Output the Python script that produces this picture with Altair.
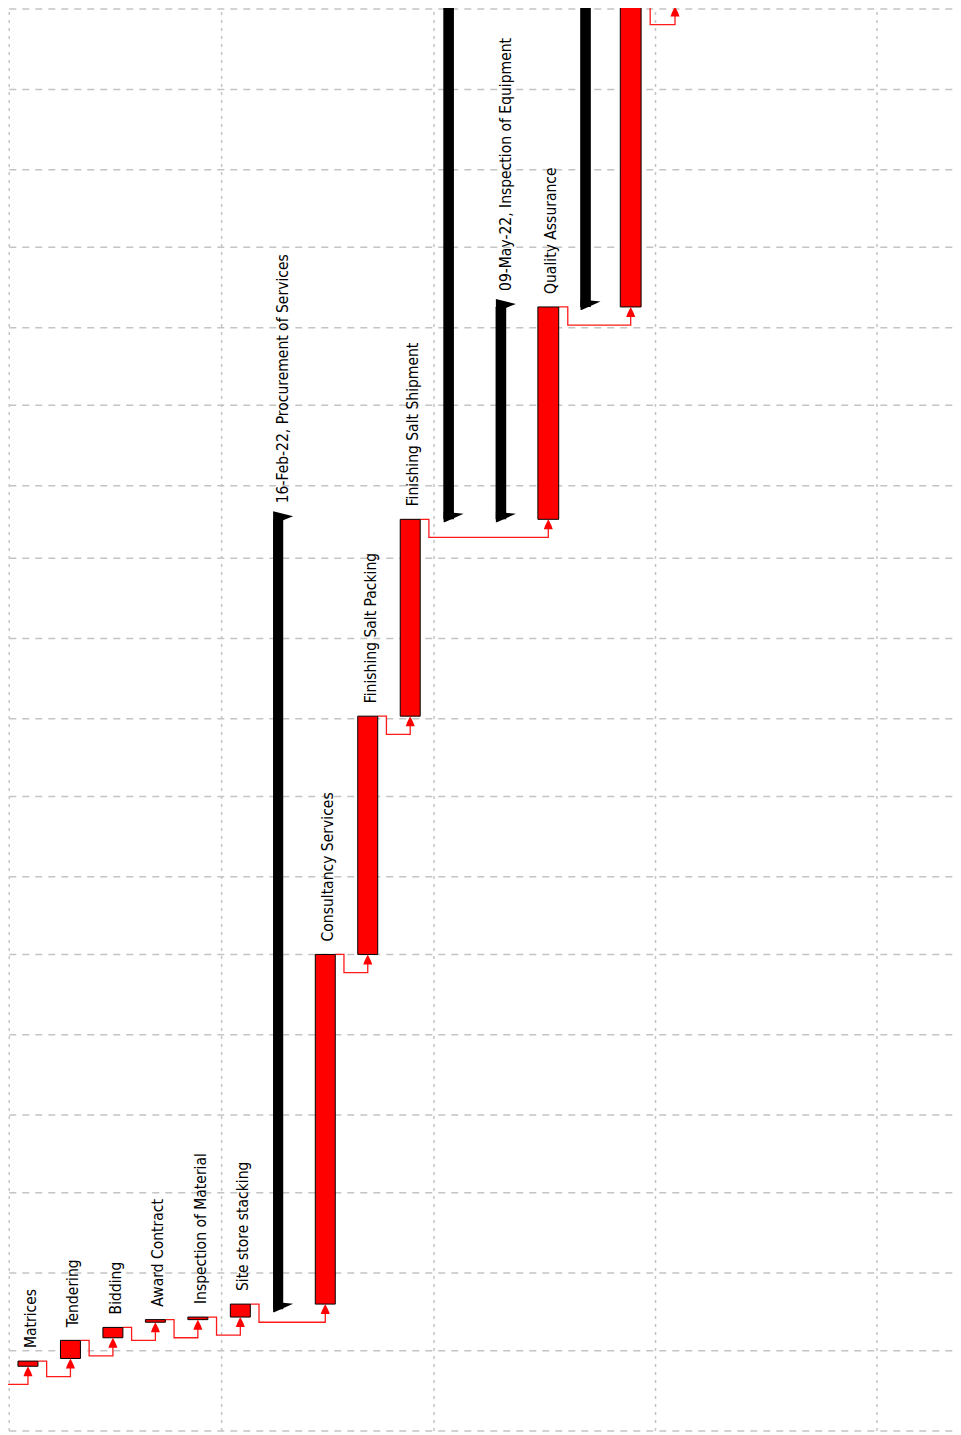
import altair as alt
import pandas as pd

ORIGIN = "2021-03-01"

# ---- tasks (red bars) ----
task_names = ["Matrices", "Tendering", "Bidding", "Award Contract", "Inspection of Material",
              "Site store stacking", "Consultancy Services", "Finishing Salt Packing",
              "Finishing Salt Shipment", "Quality Assurance", ""]
task_rows = [0, 1, 2, 3, 4, 5, 7, 8, 9, 12.14, 14]
task_starts = ["2021-03-26", "2021-03-29", "2021-04-06", "2021-04-12", "2021-04-13", "2021-04-14",
               "2021-04-19", "2021-09-01", "2021-12-02", "2022-02-16", "2022-05-09"]
task_finishes = ["2021-03-28", "2021-04-05", "2021-04-10", "2021-04-13", "2021-04-14", "2021-04-19",
                 "2021-09-01", "2021-12-02", "2022-02-16", "2022-05-09", "2022-09-02"]

# ---- summary tasks (black bars) ----
summary_names = ["16-Feb-22, Procurement of Services", "", "09-May-22, Inspection of Equipment", ""]
summary_rows = [6, 10, 11.18, 13.09]
summary_starts = ["2021-04-17", "2022-02-16", "2022-02-16", "2022-05-09"]
summary_finishes = ["2022-02-16", "2022-10-31", "2022-05-09", "2022-10-31"]

# ---- finish-to-start links (index into task lists; None = off-chart task) ----
link_pred = [None, 0, 1, 2, 3, 4, 5, 6, 7, 8, 9, 10]
link_succ = [0, 1, 2, 3, 4, 5, 6, 7, 8, 9, 10, None]
offchart_pred_row = -1
offchart_succ_row = 15
offchart_succ_start = "2022-09-02"

# ---- grid ----
grid_start, grid_end = "2021-03-01", "2022-09-01"
row_group_lines = [0, 5, 10, 15, 20]


def day(s):
    return (pd.Timestamp(s) - pd.Timestamp(ORIGIN)).days


TASK_OFF, SUM_OFF = 0.44, 0.33

tasks = pd.DataFrame({
    "name": task_names,
    "pos": [r + TASK_OFF for r in task_rows],
    "start": [day(s) for s in task_starts],
    "finish": [day(s) for s in task_finishes],
})
tasks["x0"] = tasks["pos"] - 0.235
tasks["x1"] = tasks["pos"] + 0.235

summ = pd.DataFrame({
    "name": summary_names,
    "pos": [r + SUM_OFF for r in summary_rows],
    "start": [day(s) for s in summary_starts],
    "finish": [day(s) for s in summary_finishes],
})
summ["x0"] = summ["pos"] - 0.12
summ["x1"] = summ["pos"] + 0.12

# links
lrows = []
arrows = []
for k, (p, s) in enumerate(zip(link_pred, link_succ)):
    if p is None:
        px = offchart_pred_row + TASK_OFF
        pf = tasks.loc[s, "start"]
    else:
        px = tasks.loc[p, "pos"]
        pf = tasks.loc[p, "finish"]
    if s is None:
        sx = offchart_succ_row + TASK_OFF
        ss = day(offchart_succ_start)
    else:
        sx = tasks.loc[s, "pos"]
        ss = tasks.loc[s, "start"]
    pts = [(px + 0.235, pf), (px + 0.44, pf), (px + 0.44, ss - 7), (sx, ss - 7), (sx, ss - 1)]
    for j, (xx, yy) in enumerate(pts):
        lrows.append({"link": k, "ord": j, "x": xx, "y": yy})
    arrows.append({"x": sx, "y": ss})
links = pd.DataFrame(lrows)
arrow_df = pd.DataFrame(arrows)

months = pd.date_range(grid_start, grid_end, freq="MS")
hgrid = pd.DataFrame({"y": [day(m) for m in months], "x0": 0, "x1": 21.72})
vgrid = pd.DataFrame({"x": row_group_lines, "y0": day(grid_start), "y1": day(grid_end)})

XS = alt.Scale(domain=[-0.03, 10, 20, 21.72], range=[0, 426, 869, 945], nice=False, zero=False)
YS = alt.Scale(domain=[-1.54, 549.42], nice=False, zero=False)

X = lambda f: alt.X(f, type="quantitative", scale=XS, axis=None)
Y = lambda f: alt.Y(f, type="quantitative", scale=YS, axis=None)

h_layer = alt.Chart(hgrid).mark_rule(color="#c4c4c4", strokeWidth=1.5, strokeDash=[7, 6]).encode(
    x=X("x0"), x2="x1", y=Y("y"))
v_layer = alt.Chart(vgrid).mark_rule(color="#c4c4c4", strokeWidth=1.5, strokeDash=[3, 5]).encode(
    x=X("x"), y=Y("y0"), y2="y1")

link_layer = alt.Chart(links).mark_line(color="#ff1a1a", strokeWidth=1.3, clip=True,
                                        interpolate="linear").encode(
    x=X("x"), y=Y("y"), detail="link:N", order="ord:Q")

task_layer = alt.Chart(tasks).mark_rect(color="#ff0000", stroke="#000000", strokeWidth=1, clip=True).encode(
    x=X("x0"), x2="x1", y=Y("start"), y2="finish")

sum_layer = alt.Chart(summ).mark_rect(color="#000000", clip=True).encode(
    x=X("x0"), x2="x1", y=Y("start"), y2="finish")

top_cap = "M -0.5 -0.8 L 1.5 -0.3 L 0.5 0.1 L -0.5 0.1 Z"
bot_cap = "M -0.5 -0.75 L 1.5 -0.55 L -0.4 0.3 L -0.5 0.3 Z"
cap_top_layer = alt.Chart(summ).mark_point(shape=top_cap, size=400, filled=True, color="#000000",
                                           opacity=1, strokeWidth=0, clip=True).encode(
    x=X("pos"), y=Y("finish"))
cap_bot_layer = alt.Chart(summ).mark_point(shape=bot_cap, size=400, filled=True, color="#000000",
                                           opacity=1, strokeWidth=0, clip=True).encode(
    x=X("pos"), y=Y("start"))

arrow_shape = "M 0 0 L 0.6 1.2 L 0.9 2 L -0.9 2 L -0.6 1.2 Z"
arrow_layer = alt.Chart(arrow_df).mark_point(shape=arrow_shape, size=100, filled=True, color="#ff0000",
                                             opacity=1, strokeWidth=0, clip=True).encode(
    x=X("x"), y=Y("y"))

# rotated text: dx runs along the text (screen up), dy across it (screen right)
FONT = "DejaVu Sans Condensed, Liberation Sans Narrow, sans-serif"
task_text = alt.Chart(tasks).mark_text(angle=270, align="left", baseline="alphabetic", dx=13, dy=8,
                                       font=FONT, fontSize=15.5, color="#000000").encode(
    x=X("pos"), y=Y("finish"), text="name:N")
sum_text = alt.Chart(summ).mark_text(angle=270, align="left", baseline="alphabetic", dx=16, dy=10,
                                     font=FONT, fontSize=15.5, color="#000000").encode(
    x=X("pos"), y=Y("finish"), text="name:N")

chart = alt.layer(
    h_layer, v_layer, link_layer, task_layer, sum_layer, cap_top_layer, cap_bot_layer,
    arrow_layer, task_text, sum_text
).properties(
    width=945, height=1427, autosize=alt.AutoSizeParams(type="none"), padding=0,
    background="#ffffff"
).configure_view(stroke=None)

chart.save("out.html", embed_options={"renderer": "svg", "actions": False})
